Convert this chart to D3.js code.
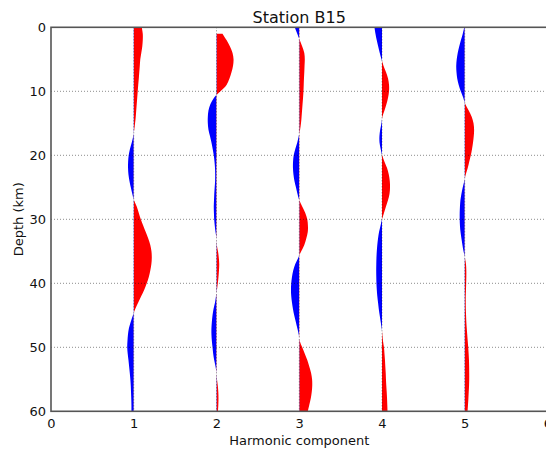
<!DOCTYPE html>
<html>
<head>
<meta charset="utf-8">
<script src="https://cdn.jsdelivr.net/npm/d3@7"></script>
<style>
  html, body { margin: 0; padding: 0; background: #fff; }
  svg { display: block; font-family: "DejaVu Sans", sans-serif; }
</style>
</head>
<body>
<svg id="chart" width="546" height="450"></svg>
<script>
// ---- data ----
const title = "Station B15";
const xLabel = "Harmonic component";
const yLabel = "Depth (km)";
const xTicks = [0, 1, 2, 3, 4, 5, 6];
const yTicks = [0, 10, 20, 30, 40, 50, 60];
const harmonics = [1, 2, 3, 4, 5];
const depths = d3.range(0, 61, 1); // km

const amp1 = [0.097,0.109,0.109,0.103,0.091,0.079,0.073,0.067,0.061,0.054,0.048,0.042,0.036,0.030,0.024,0.016,0.006,-0.006,-0.024,-0.046,-0.061,-0.068,-0.069,-0.064,-0.052,-0.036,-0.018,0.002,0.036,0.061,0.085,0.115,0.145,0.175,0.200,0.214,0.218,0.213,0.200,0.182,0.157,0.127,0.091,0.054,0.018,-0.010,-0.036,-0.058,-0.070,-0.076,-0.079,-0.073,-0.064,-0.056,-0.048,-0.041,-0.036,-0.033,-0.030,-0.028,-0.027];
const amp2 = [null,0.073,0.121,0.163,0.194,0.206,0.200,0.182,0.157,0.121,0.048,-0.030,-0.073,-0.097,-0.105,-0.105,-0.097,-0.079,-0.061,-0.046,-0.033,-0.024,-0.018,-0.016,-0.017,-0.022,-0.027,-0.030,-0.033,-0.031,-0.028,-0.021,-0.012,0.000,0.004,0.018,0.028,0.033,0.030,0.024,0.016,0.006,-0.006,-0.018,-0.036,-0.048,-0.056,-0.061,-0.061,-0.056,-0.048,-0.040,-0.028,-0.012,0.000,0.006,0.016,0.022,0.024,0.022,0.018];
const amp3 = [-0.054,-0.024,0.006,0.036,0.061,0.067,0.064,0.061,0.057,0.054,0.051,0.046,0.040,0.034,0.028,0.021,0.010,-0.006,-0.024,-0.048,-0.067,-0.075,-0.076,-0.070,-0.058,-0.040,-0.022,0.000,0.036,0.073,0.097,0.105,0.103,0.085,0.061,0.024,-0.012,-0.048,-0.073,-0.088,-0.097,-0.100,-0.097,-0.088,-0.076,-0.061,-0.042,-0.024,-0.006,0.006,0.036,0.067,0.097,0.121,0.143,0.155,0.157,0.151,0.139,0.121,0.103];
const amp4 = [-0.091,-0.079,-0.064,-0.046,-0.027,-0.006,0.018,0.048,0.073,0.085,0.085,0.073,0.054,0.030,0.004,-0.006,-0.022,-0.031,-0.030,-0.016,0.002,0.030,0.061,0.082,0.094,0.097,0.091,0.073,0.048,0.024,0.000,-0.018,-0.036,-0.048,-0.057,-0.063,-0.067,-0.069,-0.070,-0.069,-0.067,-0.063,-0.057,-0.048,-0.039,-0.028,-0.016,-0.004,0.004,0.012,0.024,0.030,0.036,0.040,0.045,0.048,0.052,0.057,0.061,0.064,0.067];
const amp5 = [-0.006,-0.024,-0.046,-0.067,-0.085,-0.097,-0.103,-0.100,-0.091,-0.073,-0.048,-0.018,0.006,0.048,0.085,0.106,0.113,0.109,0.100,0.088,0.073,0.054,0.036,0.012,-0.006,-0.024,-0.040,-0.052,-0.058,-0.061,-0.061,-0.058,-0.051,-0.040,-0.028,-0.015,0.002,0.015,0.019,0.019,0.017,0.015,0.012,0.012,0.013,0.016,0.019,0.024,0.030,0.036,0.042,0.047,0.051,0.053,0.054,0.054,0.052,0.048,0.044,0.039,0.034];
const amplitudes = [amp1, amp2, amp3, amp4, amp5];

// ---- layout ----
const pLeft = 51, pRight = 547.5, pTop = 27.3, pBottom = 411.3;
const x = d3.scaleLinear().domain([0, 6]).range([pLeft, pRight]);
const y = d3.scaleLinear().domain([0, 60]).range([pTop, pBottom]);

const svg = d3.select("#chart");
const defs = svg.append("defs");
defs.append("clipPath").attr("id", "plotclip")
  .append("rect").attr("x", pLeft).attr("y", pTop)
  .attr("width", pRight - pLeft).attr("height", pBottom - pTop);

const plot = svg.append("g").attr("clip-path", "url(#plotclip)");

harmonics.forEach((k, i) => {
  const data = depths.map((d, j) => ({ depth: d, v: amplitudes[i][j] }));
  const xb = x(k);
  defs.append("clipPath").attr("id", "pos" + k)
    .append("rect").attr("x", xb).attr("y", pTop).attr("width", 120).attr("height", pBottom - pTop);
  defs.append("clipPath").attr("id", "neg" + k)
    .append("rect").attr("x", xb - 120).attr("y", pTop).attr("width", 120).attr("height", pBottom - pTop);
  const area = d3.area()
    .defined(d => d.v !== null)
    .curve(d3.curveCatmullRom)
    .y(d => y(d.depth))
    .x0(xb)
    .x1(d => x(k + d.v));
  const g = plot.append("g");
  g.append("path").attr("d", area(data)).attr("fill", "#ff0000")
    .attr("clip-path", "url(#pos" + k + ")");
  g.append("path").attr("d", area(data)).attr("fill", "#0000ff")
    .attr("clip-path", "url(#neg" + k + ")");
});

// grid (drawn over the fills, like the reference)
const grid = svg.append("g").attr("clip-path", "url(#plotclip)");
grid.selectAll("line.h").data(yTicks.slice(1, -1)).enter().append("line")
  .attr("x1", pLeft).attr("x2", pRight)
  .attr("y1", d => y(d)).attr("y2", d => y(d))
  .attr("stroke", "#000").attr("stroke-opacity", 0.45)
  .attr("stroke-width", 1).attr("stroke-dasharray", "1,2");
grid.selectAll("line.v").data(xTicks.slice(1, -1)).enter().append("line")
  .attr("x1", d => x(d)).attr("x2", d => x(d))
  .attr("y1", pTop).attr("y2", pBottom)
  .attr("stroke", "#000").attr("stroke-opacity", 0.45)
  .attr("stroke-width", 1).attr("stroke-dasharray", "1,2");

// frame
svg.append("rect").attr("x", pLeft).attr("y", pTop)
  .attr("width", pRight - pLeft).attr("height", pBottom - pTop)
  .attr("fill", "none").attr("stroke", "#555").attr("stroke-width", 1.6);

// axes
const xAxis = svg.append("g").attr("transform", `translate(0,${pBottom})`)
  .call(d3.axisBottom(x).tickValues(xTicks).tickFormat(d3.format("d")).tickSize(0).tickPadding(7.5));
const yAxis = svg.append("g").attr("transform", `translate(${pLeft},0)`)
  .call(d3.axisLeft(y).tickValues(yTicks).tickFormat(d3.format("d")).tickSize(0).tickPadding(5));
[xAxis, yAxis].forEach(a => {
  a.select(".domain").remove();
  a.selectAll("text").attr("font-family", "DejaVu Sans, sans-serif")
    .attr("font-size", 13).attr("fill", "#111");
});

// labels
svg.append("text").attr("x", (pLeft + pRight) / 2).attr("y", 23)
  .attr("text-anchor", "middle").attr("font-size", 16).attr("fill", "#111").text(title);
svg.append("text").attr("x", (pLeft + pRight) / 2).attr("y", 445)
  .attr("text-anchor", "middle").attr("font-size", 13).attr("fill", "#111").text(xLabel);
svg.append("text").attr("transform", `translate(23,${(pTop + pBottom) / 2}) rotate(-90)`)
  .attr("text-anchor", "middle").attr("font-size", 13).attr("fill", "#111").text(yLabel);
</script>
</body>
</html>
